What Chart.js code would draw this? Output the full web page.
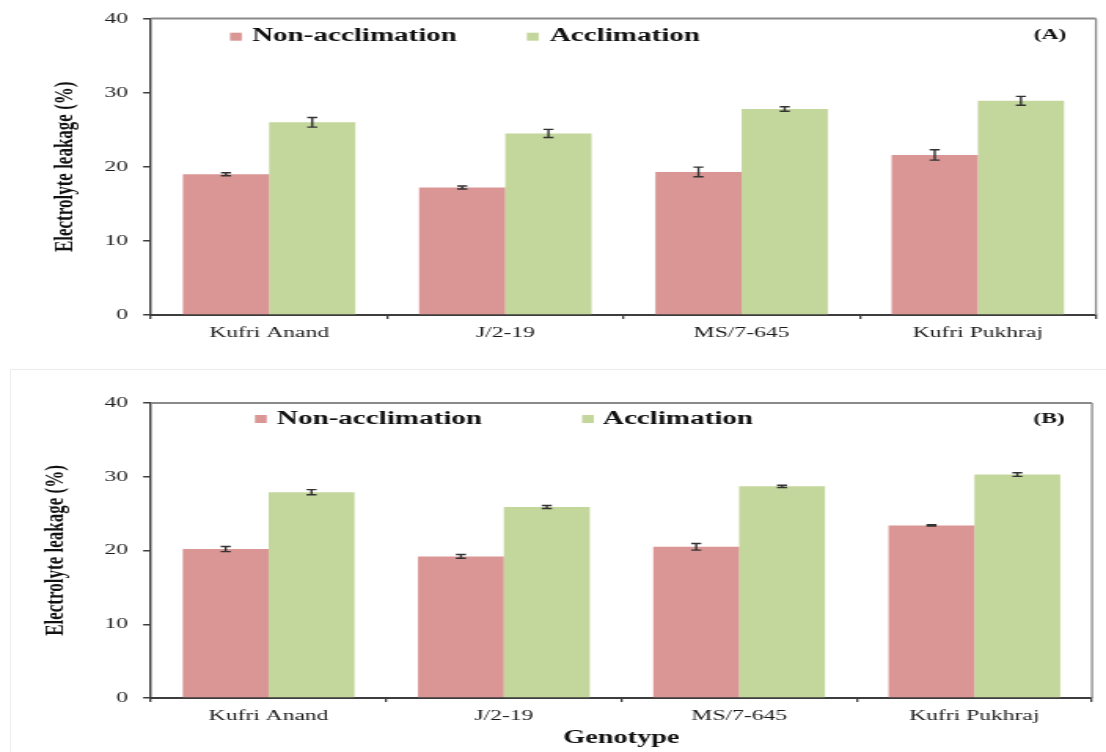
<!DOCTYPE html>
<html>
<head>
<meta charset="utf-8">
<script src="https://cdn.jsdelivr.net/npm/chart.js@4.4.1/dist/chart.umd.min.js"></script>
<style>
  html, body { margin: 0; padding: 0; background: #ffffff; }
  body { position: relative; width: 1106px; height: 752px; overflow: hidden; }
  canvas { position: absolute; left: 0; }
  .frame { position: absolute; left: 10px; top: 369px; width: 1100px; height: 400px; border: 1px solid #ececec; }
</style>
</head>
<body>
<div class="frame"></div>
<!-- each panel is drawn on a narrow canvas and widened by CSS -->
<canvas id="panelA" width="704" height="350" style="top:0px;width:1106px;height:350px"></canvas>
<canvas id="panelB" width="704" height="382" style="top:370px;width:1106px;height:382px"></canvas>
<script>
// Genotypes and series
const genotypes = ['Kufri Anand', 'J/2-19', 'MS/7-645', 'Kufri Pukhraj'];
const seriesNames = ['Non-acclimation', 'Acclimation'];

// Panel (A): electrolyte leakage (%) with standard errors
const nonAcclimA    = [19.0, 17.2, 19.3, 21.6];
const nonAcclimErrA = [0.2, 0.2, 0.65, 0.7];
const acclimA       = [26.0, 24.5, 27.8, 28.9];
const acclimErrA    = [0.65, 0.55, 0.3, 0.6];

// Panel (B): electrolyte leakage (%) with standard errors
const nonAcclimB    = [20.2, 19.2, 20.5, 23.4];
const nonAcclimErrB = [0.35, 0.25, 0.45, 0.1];
const acclimB       = [27.9, 25.9, 28.7, 30.3];
const acclimErrB    = [0.35, 0.2, 0.15, 0.25];

// Y axis range and step
const yMin = 0, yMax = 40, yStep = 10;

const RED = '#D99694';
const GREEN = '#C3D69B';
const SERIF = "'Liberation Serif', 'Times New Roman', serif";

Chart.defaults.font.family = SERIF;

// Error bars drawn from each dataset's "errors" array through the y scale
const errorBars = {
  id: 'errorBars',
  afterDatasetsDraw(chart) {
    const ctx = chart.ctx;
    const y = chart.scales.y;
    chart.data.datasets.forEach((ds, i) => {
      const meta = chart.getDatasetMeta(i);
      meta.data.forEach((bar, j) => {
        const v = ds.data[j], e = ds.errors[j];
        const top = y.getPixelForValue(v + e);
        const bot = y.getPixelForValue(v - e);
        ctx.save();
        ctx.strokeStyle = '#333333';
        ctx.lineWidth = 1.4;
        ctx.beginPath();
        ctx.moveTo(bar.x, top); ctx.lineTo(bar.x, bot);
        ctx.moveTo(bar.x - 3.2, top); ctx.lineTo(bar.x + 3.2, top);
        ctx.moveTo(bar.x - 3.2, bot); ctx.lineTo(bar.x + 3.2, bot);
        ctx.stroke();
        ctx.restore();
      });
    });
  }
};

// Grey top/right frame, legend row and panel tag
const decorations = {
  id: 'decorations',
  afterDraw(chart, args, opts) {
    const ctx = chart.ctx;
    const a = chart.chartArea;
    ctx.save();
    ctx.strokeStyle = '#8a8a8a';
    ctx.lineWidth = 2;
    ctx.beginPath();
    ctx.moveTo(a.left, a.top); ctx.lineTo(a.right, a.top);
    ctx.stroke();
    ctx.lineWidth = 1.3;
    ctx.beginPath();
    ctx.moveTo(a.right, a.top); ctx.lineTo(a.right, a.bottom);
    ctx.stroke();

    // legend entries
    ctx.font = 'bold 18.5px ' + SERIF;
    ctx.textBaseline = 'middle';
    ctx.textAlign = 'left';
    chart.data.datasets.forEach((ds, i) => {
      const pos = opts.legend[i];
      ctx.fillStyle = ds.backgroundColor;
      ctx.fillRect(pos.box, opts.legendY - 4, 7.5, 8);
      ctx.fillStyle = '#111';
      ctx.fillText(ds.label, pos.text, opts.legendY);
    });

    // panel tag
    ctx.font = 'bold 15px ' + SERIF;
    ctx.textAlign = 'center';
    ctx.fillText(opts.tag, opts.tagX, opts.tagY);
    ctx.restore();
  }
};

function makePanel(id, redVals, redErr, greenVals, greenErr, cfg) {
  return new Chart(document.getElementById(id), {
    type: 'bar',
    data: {
      labels: genotypes,
      datasets: [
        { label: seriesNames[0], data: redVals, errors: redErr, backgroundColor: RED,
          borderWidth: 0, categoryPercentage: 0.73, barPercentage: 1.0 },
        { label: seriesNames[1], data: greenVals, errors: greenErr, backgroundColor: GREEN,
          borderWidth: 0, categoryPercentage: 0.73, barPercentage: 1.0 }
      ]
    },
    options: {
      responsive: false,
      devicePixelRatio: 1,
      animation: false,
      layout: { padding: cfg.padding },
      plugins: {
        legend: { display: false },
        tooltip: { enabled: false },
        decorations: cfg.deco
      },
      scales: {
        x: {
          z: 1,
          afterFit: (axis) => { axis.height = cfg.xHeight; },
          grid: { display: true, drawOnChartArea: false, offset: true, tickLength: 4,
                  color: '#3d3d3d', lineWidth: 1.3 },
          border: { color: '#3d3d3d', width: 2 },
          ticks: { color: '#1a1a1a', padding: 5, font: { family: SERIF, size: 15 } },
          title: cfg.xTitle
        },
        y: {
          z: 1,
          min: yMin, max: yMax,
          afterFit: (axis) => { axis.width = cfg.yWidth; },
          grid: { display: true, drawOnChartArea: false, tickLength: 5,
                  color: '#3d3d3d', lineWidth: 1.5 },
          border: { color: '#3d3d3d', width: 1.4 },
          ticks: { stepSize: yStep, color: '#1a1a1a', padding: 9.6,
                   font: { family: SERIF, size: 15 } },
          title: { display: true, text: 'Electrolyte leakage (%)', color: '#111',
                   padding: 0, font: { family: SERIF, size: 17, weight: 'bold' } }
        }
      }
    },
    plugins: [errorBars, decorations]
  });
}

makePanel('panelA', nonAcclimA, nonAcclimErrA, acclimA, acclimErrA, {
  padding: { left: 31.5, top: 17, right: 6.4, bottom: 0 },
  yWidth: 64.6,
  xHeight: 35,
  xTitle: { display: false },
  deco: {
    legend: [{ box: 146.4, text: 160.4 }, { box: 335.4, text: 350 }],
    legendY: 36.7,
    tag: '(A)', tagX: 668.4, tagY: 35
  }
});

makePanel('panelB', nonAcclimB, nonAcclimErrB, acclimB, acclimErrB, {
  padding: { left: 25, top: 33, right: 8.9, bottom: 3.2 },
  yWidth: 71.1,
  xHeight: 50.8,
  xTitle: { display: true, text: 'Genotype', color: '#111', padding: 0,
            font: { family: SERIF, size: 18, weight: 'bold' } },
  deco: {
    legend: [{ box: 162.3, text: 176.3 }, { box: 370.5, text: 383.8 }],
    legendY: 49,
    tag: '(B)', tagX: 667.7, tagY: 49
  }
});
</script>
</body>
</html>
